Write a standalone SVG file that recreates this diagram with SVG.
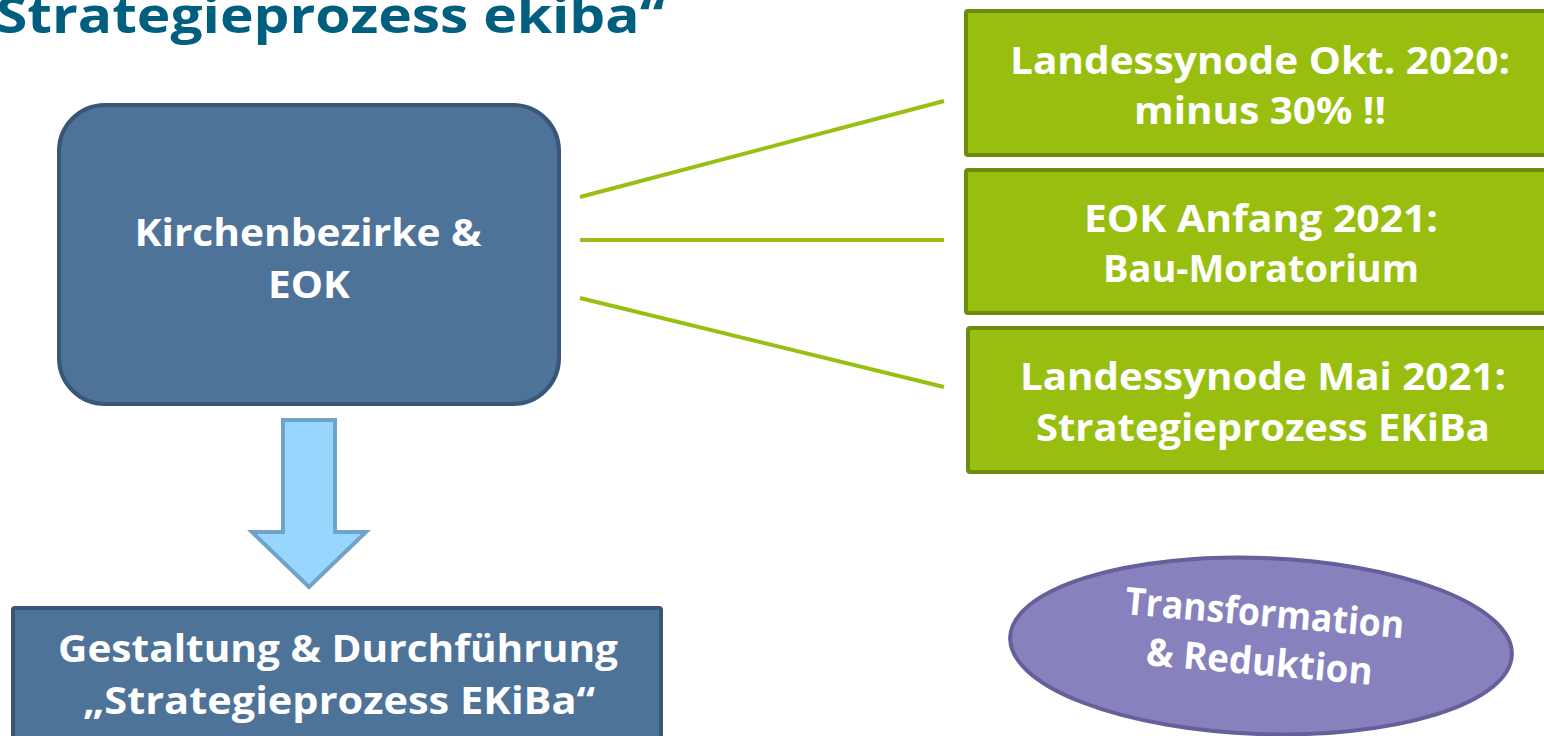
<svg xmlns="http://www.w3.org/2000/svg" width="1544" height="736" viewBox="0 0 1544 736">
<style>
.t{font-family:"Open Sans","DejaVu Sans",sans-serif;font-weight:700;fill:#fff;font-size:38px;text-anchor:middle}
.green{fill:#98bf0f;stroke:#6e8c0a;stroke-width:4}
.blue{fill:#4e7399;stroke:#3a5676;stroke-width:4}
.conn{stroke:#99bf10;stroke-width:4;fill:none}
</style>
<rect width="1544" height="736" fill="#fff"/>
<text x="-4" y="33" font-family="'Open Sans','DejaVu Sans',sans-serif" font-weight="700" font-size="50" fill="#005f7f" textLength="669" lengthAdjust="spacingAndGlyphs">Strategieprozess ekiba“</text>
<g id="connectors">
<line class="conn" x1="580" y1="197" x2="944" y2="101"/>
<line class="conn" x1="580" y1="240" x2="944" y2="240"/>
<line class="conn" x1="580" y1="298" x2="944" y2="387"/>
</g>
<g id="kirchenbezirke">
<rect class="blue" x="59" y="105" width="500" height="299" rx="46"/>
<text class="t" x="308" y="246" textLength="347" lengthAdjust="spacingAndGlyphs">Kirchenbezirke &amp;</text>
<text class="t" x="309" y="298" textLength="82" lengthAdjust="spacingAndGlyphs">EOK</text>
</g>
<g id="arrow">
<path d="M283,420 H335 V532 H366 L309,587 L252,532 H283 Z" fill="#99d6ff" stroke="#6fa3c8" stroke-width="4"/>
</g>
<g id="gestaltung">
<rect class="blue" x="13" y="608" width="648" height="140" rx="2"/>
<text class="t" x="338" y="662" textLength="560" lengthAdjust="spacingAndGlyphs">Gestaltung &amp; Durchführung</text>
<text class="t" x="339" y="714" textLength="512" lengthAdjust="spacingAndGlyphs">„Strategieprozess EKiBa“</text>
</g>
<g id="okt2020">
<rect class="green" x="966" y="11" width="590" height="144" rx="2"/>
<text class="t" x="1260" y="74" textLength="500" lengthAdjust="spacingAndGlyphs">Landessynode Okt. 2020:</text>
<text class="t" x="1260" y="124" textLength="252" lengthAdjust="spacingAndGlyphs">minus 30% !!</text>
</g>
<g id="anfang2021">
<rect class="green" x="966" y="170" width="590" height="143" rx="2"/>
<text class="t" x="1261" y="232" textLength="354" lengthAdjust="spacingAndGlyphs">EOK Anfang 2021:</text>
<text class="t" x="1261" y="282" textLength="316" lengthAdjust="spacingAndGlyphs">Bau-Moratorium</text>
</g>
<g id="mai2021">
<rect class="green" x="968" y="328" width="590" height="144" rx="2"/>
<text class="t" x="1263" y="390" textLength="486" lengthAdjust="spacingAndGlyphs">Landessynode Mai 2021:</text>
<text class="t" x="1263" y="441" textLength="454" lengthAdjust="spacingAndGlyphs">Strategieprozess EKiBa</text>
</g>
<g id="transformation">
<ellipse cx="1261" cy="646" rx="251" ry="88" fill="#8781bd" stroke="#675f99" stroke-width="4" transform="rotate(2 1261 646)"/>
<g transform="rotate(5 1261 645)">
<text class="t" x="1262" y="626" font-size="36" textLength="280" lengthAdjust="spacingAndGlyphs">Transformation</text>
<text class="t" x="1261" y="675" font-size="36" textLength="227" lengthAdjust="spacingAndGlyphs">&amp; Reduktion</text>
</g>
</g>
</svg>
